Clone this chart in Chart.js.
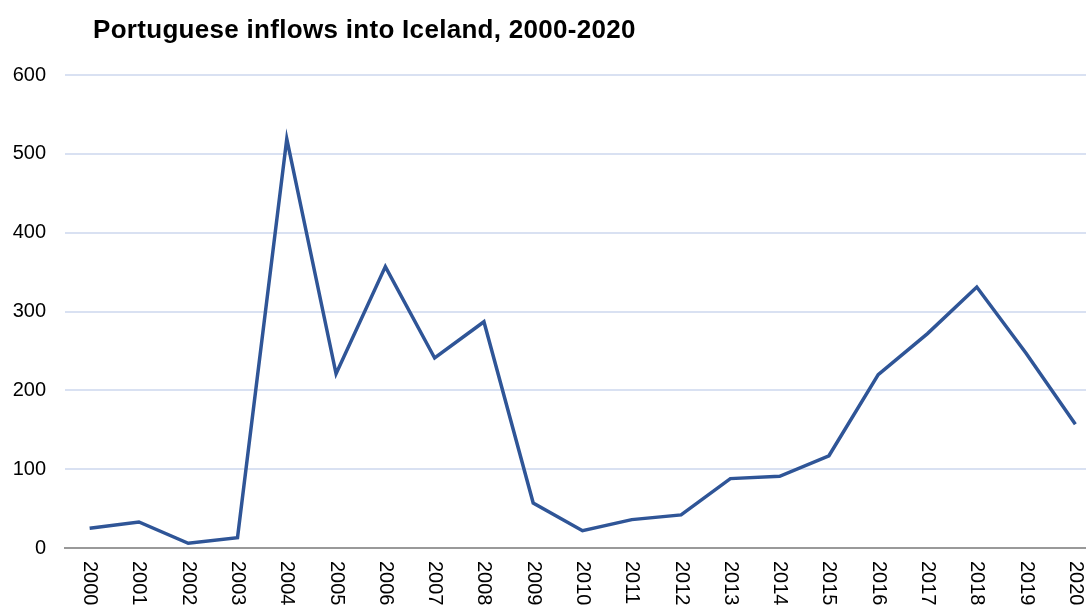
<!DOCTYPE html>
<html>
<head>
<meta charset="utf-8">
<script src="https://cdn.jsdelivr.net/npm/chart.js@4.4.0/dist/chart.umd.min.js"></script>
<style>
  html, body { margin: 0; padding: 0; background: #fff; overflow: hidden; }
  #wrap { width: 1100px; height: 610px; }
</style>
</head>
<body>
<div id="wrap"><canvas id="lineChart"></canvas></div>
<script>
const years = ['2000', '2001', '2002', '2003', '2004', '2005', '2006', '2007', '2008', '2009', '2010',
               '2011', '2012', '2013', '2014', '2015', '2016', '2017', '2018', '2019', '2020'];
const inflows = [25, 33, 6, 13, 519, 221, 357, 241, 287, 57, 22, 36, 42, 88, 91, 117, 220, 272, 331, 247, 157];
const yTicks = [0, 100, 200, 300, 400, 500, 600];
const chartTitle = 'Portuguese inflows into Iceland, 2000-2020';

// title and clockwise-rotated year labels
const extras = {
    id: 'extras',
    afterDraw(chart) {
        const ctx = chart.ctx;
        const x = chart.scales.x;
        ctx.save();
        ctx.fillStyle = '#000';
        ctx.font = 'bold 26px "Liberation Sans", Arial, sans-serif';
        ctx.letterSpacing = '0.3px';
        ctx.textBaseline = 'alphabetic';
        ctx.textAlign = 'left';
        ctx.fillText(chartTitle, 93, 38);
        ctx.letterSpacing = '0px';
        ctx.font = '20px "Liberation Sans", Arial, sans-serif';
        years.forEach((y, i) => {
            ctx.save();
            ctx.translate(x.getPixelForValue(i), x.bottom + 13);
            ctx.rotate(Math.PI / 2);
            ctx.textAlign = 'left';
            ctx.textBaseline = 'middle';
            ctx.fillText(y, 0, 0);
            ctx.restore();
        });
        ctx.restore();
    }
};

new Chart(document.getElementById('lineChart').getContext('2d'), {
    type: 'line',
    data: {
        labels: years,
        datasets: [{
            label: 'Portuguese inflows',
            data: inflows,
            borderColor: '#2F5597',
            borderWidth: 3.5,
            pointRadius: 0,
            tension: 0,
            fill: false
        }]
    },
    options: {
        responsive: true,
        maintainAspectRatio: false,
        animation: false,
        layout: { padding: { top: 75, bottom: 62, left: 0, right: 0 } },
        plugins: {
            legend: { display: false },
            tooltip: { enabled: false }
        },
        scales: {
            x: {
                offset: true,
                grid: { display: false, drawTicks: false },
                border: { display: true, color: '#999999', width: 2 },
                ticks: { display: false },
                afterFit: s => { s.height = 0; }
            },
            y: {
                min: 0,
                max: 600,
                afterBuildTicks: s => { s.ticks = yTicks.map(v => ({ value: v })); },
                grid: { color: '#D9E1F2', lineWidth: 2, drawTicks: false },
                border: { display: false },
                ticks: {
                    color: '#000',
                    padding: 19,
                    font: { family: '"Liberation Sans", Arial, sans-serif', size: 20 }
                },
                afterFit: s => { s.width = 65; }
            }
        }
    },
    plugins: [extras]
});
</script>
</body>
</html>
